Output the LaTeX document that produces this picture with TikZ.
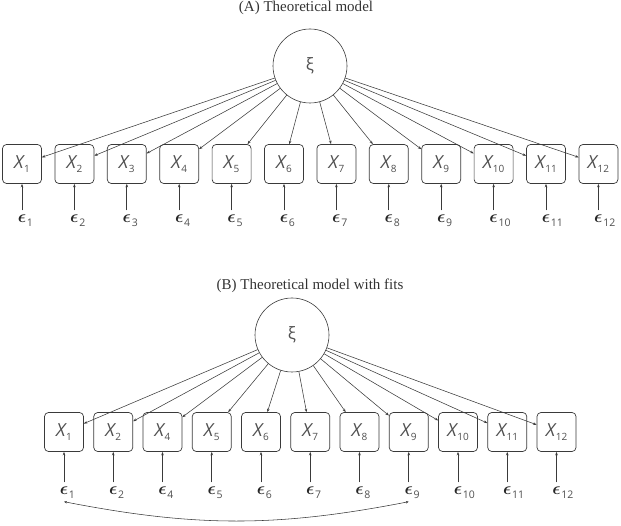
\documentclass[tikz,border=0pt]{standalone}
\usepackage{fontspec}
\usepackage{amsmath}
\setmainfont{Liberation Serif}
\newfontfamily\lblfont{Open Sans}
\usetikzlibrary{arrows.meta}
\definecolor{linec}{HTML}{3A3A3A}
\definecolor{textc}{HTML}{505050}
\newcommand{\xlab}[1]{{\itshape X}\hspace{0.6pt}\raisebox{-4pt}{\fontsize{10}{10}\selectfont #1}}
\newcommand{\elab}[1]{$\boldsymbol{\epsilon}$\rlap{\hspace{0.8pt}\raisebox{-4pt}{\lblfont\color{textc}\fontsize{10.5}{10.5}\selectfont #1}}}
\begin{document}
\begin{tikzpicture}[x=1pt,y=-1pt,
  obs/.style={draw=linec, rounded corners=4pt, minimum size=39pt, inner sep=0pt,
    line width=0.7pt, font=\lblfont\fontsize{18}{18}\selectfont, text=textc},
  lat/.style={circle, draw=linec, minimum size=74pt, inner sep=0pt, line width=0.6pt,
    font=\lblfont\fontsize{17}{17}\selectfont, text=textc},
  errn/.style={inner sep=0pt, text height=9pt, text depth=0pt,
    font=\fontsize{17}{17}\selectfont, text=black!85},
  load/.style={-{Stealth[length=3.5pt,width=2.6pt]}, draw=linec, line width=0.55pt},
  erra/.style={-{Stealth[length=3.5pt,width=2.6pt]}, draw=linec, line width=0.7pt, shorten <=3pt},
  corr/.style={{Stealth[length=3pt,width=2.5pt]}-{Stealth[length=3pt,width=2.5pt]}, draw=linec, line width=0.55pt},
  ttl/.style={font=\fontsize{15}{15}\selectfont, text=black!80, inner sep=0pt, anchor=base}]
\useasboundingbox (0,0) rectangle (621,526);

% ---------------- (A) ----------------
\node[ttl] (ta) at (306,12) {(A) Theoretical model};
\node[lat] (xia) at (310,66) {ξ};
\foreach \i in {1,...,12}{
  \pgfmathsetmacro{\xx}{22+52.4*(\i-1)}
  \node[obs] (a\i) at (\xx,164) {\xlab{\i}};
  \node[errn] (ea\i) at (\xx,218) {\elab{\i}};
  \draw[load] (xia) -- (a\i);
  \draw[erra] (ea\i) -- (a\i);
}

% ---------------- (B) ----------------
\node[ttl] (tb) at (310,290) {(B) Theoretical model with fits};
\node[lat] (xib) at (292,335) {ξ};
\foreach \i [count=\k] in {1,2,4,5,6,7,8,9,10,11,12}{
  \pgfmathsetmacro{\xx}{64+49.25*(\k-1)}
  \node[obs] (b\i) at (\xx,432) {\xlab{\i}};
  \node[errn] (eb\i) at (\xx,490) {\elab{\i}};
  \draw[load] (xib) -- (b\i);
  \draw[erra] (eb\i) -- (b\i);
}
\draw[corr] ([yshift=-7pt]eb1.south) to[bend right=11] ([yshift=-7pt]eb9.south);
\end{tikzpicture}
\end{document}
